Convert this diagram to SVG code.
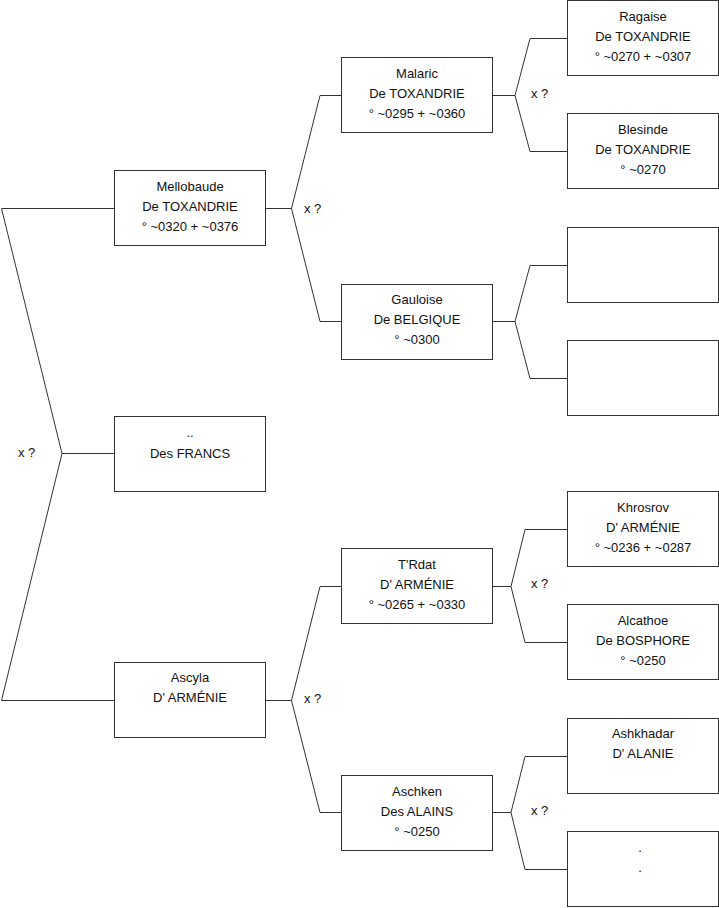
<svg xmlns="http://www.w3.org/2000/svg" width="719" height="908" viewBox="0 0 719 908">
<style>
rect.b{fill:#fff;stroke:#333;stroke-width:1}
text{font-family:"Liberation Sans",Arial,sans-serif;font-size:13px;fill:#111}
text.c{text-anchor:middle}
#connectors path{fill:none;stroke:#333;stroke-width:1}
</style>
<rect width="719" height="908" fill="#fff"/>
<g id="connectors">
<path d="M114,208.5 H1.5 L62,453.5 L1.5,700.5 H114 M62,453.5 H114"/>
<path d="M265,208.5 H291.5 L320,95.5 H341 M291.5,208.5 L320,321.5 H341"/>
<path d="M265,700.5 H291.5 L320,586.5 H341 M291.5,700.5 L320,812.5 H341"/>
<path d="M492,95.5 H515 L530,38.5 H567 M515,95.5 L530,151.5 H567"/>
<path d="M492,321.5 H515 L530,265.5 H567 M515,321.5 L530,378.5 H567"/>
<path d="M492,586.5 H511 L525,529.5 H567 M511,586.5 L525,642.5 H567"/>
<path d="M492,812.5 H511 L525,756.5 H567 M511,812.5 L525,869.5 H567"/>
<text x="18" y="457">x ?</text>
<text x="304" y="213">x ?</text>
<text x="304" y="703">x ?</text>
<text x="531" y="98">x ?</text>
<text x="531" y="588">x ?</text>
<text x="531" y="815">x ?</text>
</g>
<g id="mellobaude"><rect class="b" x="114.5" y="170.5" width="151" height="75"/>
<text class="c" x="190" y="191">Mellobaude</text><text class="c" x="190" y="211">De TOXANDRIE</text><text class="c" x="190" y="231">° ~0320 + ~0376</text></g>
<g id="francs"><rect class="b" x="114.5" y="416.5" width="151" height="75"/>
<text class="c" x="190" y="437">..</text><text class="c" x="190" y="458">Des FRANCS</text></g>
<g id="ascyla"><rect class="b" x="114.5" y="662.5" width="151" height="75"/>
<text class="c" x="190" y="682">Ascyla</text><text class="c" x="190" y="702">D' ARMÉNIE</text></g>
<g id="malaric"><rect class="b" x="341.5" y="57.5" width="151" height="75"/>
<text class="c" x="417" y="78">Malaric</text><text class="c" x="417" y="98">De TOXANDRIE</text><text class="c" x="417" y="118">° ~0295 + ~0360</text></g>
<g id="gauloise"><rect class="b" x="341.5" y="284.5" width="151" height="75"/>
<text class="c" x="417" y="304">Gauloise</text><text class="c" x="417" y="324">De BELGIQUE</text><text class="c" x="417" y="344">° ~0300</text></g>
<g id="trdat"><rect class="b" x="341.5" y="548.5" width="151" height="75"/>
<text class="c" x="417" y="569">T'Rdat</text><text class="c" x="417" y="589">D' ARMÉNIE</text><text class="c" x="417" y="609">° ~0265 + ~0330</text></g>
<g id="aschken"><rect class="b" x="341.5" y="775.5" width="151" height="75"/>
<text class="c" x="417" y="796">Aschken</text><text class="c" x="417" y="816">Des ALAINS</text><text class="c" x="417" y="836">° ~0250</text></g>
<g id="ragaise"><rect class="b" x="567.5" y="0.5" width="151" height="75"/>
<text class="c" x="643" y="21">Ragaise</text><text class="c" x="643" y="41">De TOXANDRIE</text><text class="c" x="643" y="61">° ~0270 + ~0307</text></g>
<g id="blesinde"><rect class="b" x="567.5" y="113.5" width="151" height="75"/>
<text class="c" x="643" y="134">Blesinde</text><text class="c" x="643" y="154">De TOXANDRIE</text><text class="c" x="643" y="174">° ~0270</text></g>
<g id="empty1"><rect class="b" x="567.5" y="227.5" width="151" height="75"/></g>
<g id="empty2"><rect class="b" x="567.5" y="340.5" width="151" height="75"/></g>
<g id="khrosrov"><rect class="b" x="567.5" y="491.5" width="151" height="75"/>
<text class="c" x="643" y="512">Khrosrov</text><text class="c" x="643" y="532">D' ARMÉNIE</text><text class="c" x="643" y="552">° ~0236 + ~0287</text></g>
<g id="alcathoe"><rect class="b" x="567.5" y="604.5" width="151" height="75"/>
<text class="c" x="643" y="625">Alcathoe</text><text class="c" x="643" y="645">De BOSPHORE</text><text class="c" x="643" y="665">° ~0250</text></g>
<g id="ashkhadar"><rect class="b" x="567.5" y="718.5" width="151" height="75"/>
<text class="c" x="643" y="738">Ashkhadar</text><text class="c" x="643" y="758">D' ALANIE</text></g>
<g id="unknown"><rect class="b" x="567.5" y="831.5" width="151" height="75"/>
<text class="c" x="640" y="852">.</text><text class="c" x="640" y="872">.</text></g>
</svg>
